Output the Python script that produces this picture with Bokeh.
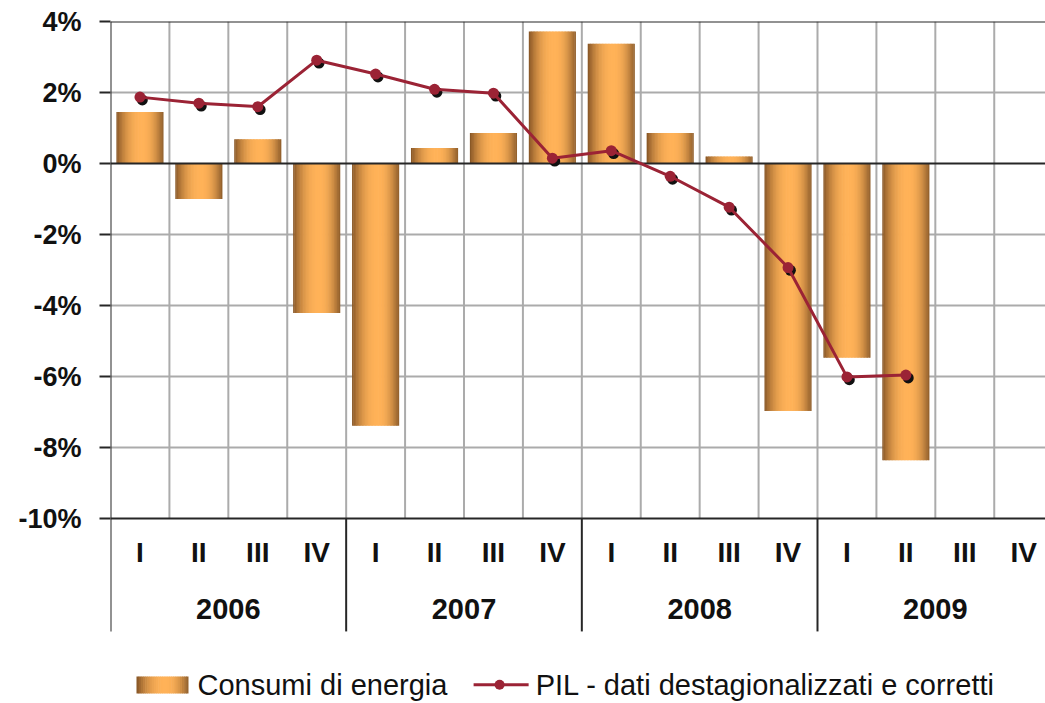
import numpy as np
from bokeh.plotting import figure
from bokeh.models import Range1d, FixedTicker, Label, ColumnDataSource, CustomJSTickFormatter
from bokeh.transform import dodge
from bokeh.core.properties import value
from bokeh.embed import file_html
from bokeh.resources import INLINE

# ---------------- data ----------------
quarters = ["I", "II", "III", "IV", "I", "II", "III", "IV",
            "I", "II", "III", "IV", "I", "II", "III", "IV"]
years = ["2006", "2007", "2008", "2009"]
# Consumi di energia (% change), 2006-I .. 2009-II
consumi = [1.45, -1.0, 0.68, -4.21, -7.39, 0.44, 0.86, 3.72,
           3.37, 0.86, 0.20, -6.97, -5.47, -8.36]
# PIL - dati destagionalizzati e corretti (% change), 2006-I .. 2009-II
pil = [1.87, 1.70, 1.60, 2.91, 2.52, 2.09, 1.98, 0.15,
       0.36, -0.36, -1.23, -2.93, -6.01, -5.96]
y_ticks = [4, 2, 0, -2, -4, -6, -8, -10]
series_names = ["Consumi di energia", "PIL - dati destagionalizzati e corretti"]

# ---------------- style ----------------
FONT = "Liberation Sans"
GRID = "#ABABAB"
DARK = "#262626"
RED = "#9B2335"
X_END = 15.87
Y_TOP = 4
Y_BOT = -15.21

p = figure(width=1045, height=703, output_backend="svg", toolbar_location=None,
           x_range=Range1d(0, X_END), y_range=Range1d(Y_BOT, Y_TOP),
           x_axis_location=None,
           min_border_left=110, min_border_right=0, min_border_top=21, min_border_bottom=0)
p.outline_line_color = None
p.xgrid.visible = False
p.ygrid.visible = False
p.background_fill_color = "white"
p.border_fill_color = "white"

ax = p.yaxis[0]
ax.ticker = FixedTicker(ticks=y_ticks)
ax.formatter = CustomJSTickFormatter(code="return tick + '%';")
ax.axis_line_color = None
ax.major_tick_out = 11
ax.major_tick_in = 0
ax.major_tick_line_color = DARK
ax.major_tick_line_width = 2
ax.minor_tick_line_color = None
ax.major_label_text_font = FONT
ax.major_label_text_font_style = "bold"
ax.major_label_text_font_size = "27px"
ax.major_label_text_color = "#111111"
ax.major_label_standoff = 18

n_cat = len(quarters)
grid_y = [t for t in y_ticks if t not in (Y_TOP, 0, y_ticks[-1])]
# horizontal gray gridlines
p.segment(x0=0, x1=X_END, y0=grid_y, y1=grid_y, line_color=GRID, line_width=2)
# vertical gray gridlines at category boundaries
vx = list(range(1, n_cat))
p.segment(x0=vx, x1=vx, y0=y_ticks[-1], y1=Y_TOP, line_color=GRID, line_width=2)

# bars with a cylinder-like gradient
xs_bar = np.arange(len(consumi)) + 0.5
bw = 0.8
N = 32
dl = np.array([130, 82, 36])
dr = np.array([140, 92, 42])
lt = np.array([255, 178, 88])


def grad_color(t):
    peak = 0.55
    if t < peak:
        d = (peak - t) / peak
        f = 1 - d ** 2.2
        c = dl + (lt - dl) * f
    else:
        d = (t - peak) / (1 - peak)
        f = 1 - d ** 2.2
        c = dr + (lt - dr) * f
    return "#%02x%02x%02x" % tuple(int(round(v)) for v in c)


sw = bw / N
for k in range(N):
    t = (k + 0.5) / N
    p.vbar(x=xs_bar - bw / 2 + (k + 0.5) * sw, width=sw * 1.5 if 0 < k < N - 1 else sw,
           top=consumi, bottom=0, fill_color=grad_color(t), line_color=None)

# black frame lines: top, zero, bottom
p.segment(x0=0, x1=X_END, y0=[Y_TOP, 0, y_ticks[-1]], y1=[Y_TOP, 0, y_ticks[-1]],
          line_color=DARK, line_width=2)
# left axis line and year separators extending into the label area
sep_bottom = -13.18
p.segment(x0=0, x1=0, y0=sep_bottom, y1=Y_TOP, line_color=DARK, line_width=2)
sx = [4 * i for i in range(1, len(years))]
p.segment(x0=sx, x1=sx, y0=sep_bottom, y1=y_ticks[-1], line_color=DARK, line_width=2)

# PIL line with shadowed markers
src = ColumnDataSource(dict(x=np.arange(len(pil)) + 0.5, y=pil))
p.scatter(x=dodge("x", 0.04), y=dodge("y", -0.08), source=src, size=11,
          fill_color="#111111", line_color=None)
p.line(x="x", y="y", source=src, line_color=RED, line_width=3)
p.scatter(x="x", y="y", source=src, size=11, fill_color=RED, line_color=None)

# category labels
p.text(x=np.arange(n_cat) + 0.5, y=[-10.96] * n_cat, text=quarters,
       text_align="center", text_baseline="middle", text_font=value(FONT),
       text_font_style="bold", text_font_size="28px", text_color="#111111")
p.text(x=[4 * i + 2 for i in range(len(years))], y=[-12.54] * len(years), text=years,
       text_align="center", text_baseline="middle", text_font=value(FONT),
       text_font_style="bold", text_font_size="29px", text_color="#111111")

# legend (drawn manually to keep the gradient swatch)
LY = -14.68
sw_l, sw_r = 0.441, 1.324
M = 24
for k in range(M):
    t = (k + 0.5) / M
    l = sw_l + k * (sw_r - sw_l) / M
    r = sw_l + (k + 1) * (sw_r - sw_l) / M + (0.01 if k < M - 1 else 0)
    p.quad(left=[l], right=[r], top=[-14.45], bottom=[-14.93],
           fill_color=grad_color(t), line_color=None)
p.add_layout(Label(x=1.477, y=LY, text=series_names[0], text_baseline="middle",
                   text_font=FONT, text_font_size="29px", text_color="#111111"))
p.line(x=[6.163, 7.097], y=[LY, LY], line_color=RED, line_width=3)
p.scatter(x=[6.604], y=[LY], size=10, fill_color=RED, line_color=None)
p.add_layout(Label(x=7.216, y=LY, text=series_names[1], text_baseline="middle",
                   text_font=FONT, text_font_size="29px", text_color="#111111"))

open("out.html", "w").write(file_html(p, INLINE))
